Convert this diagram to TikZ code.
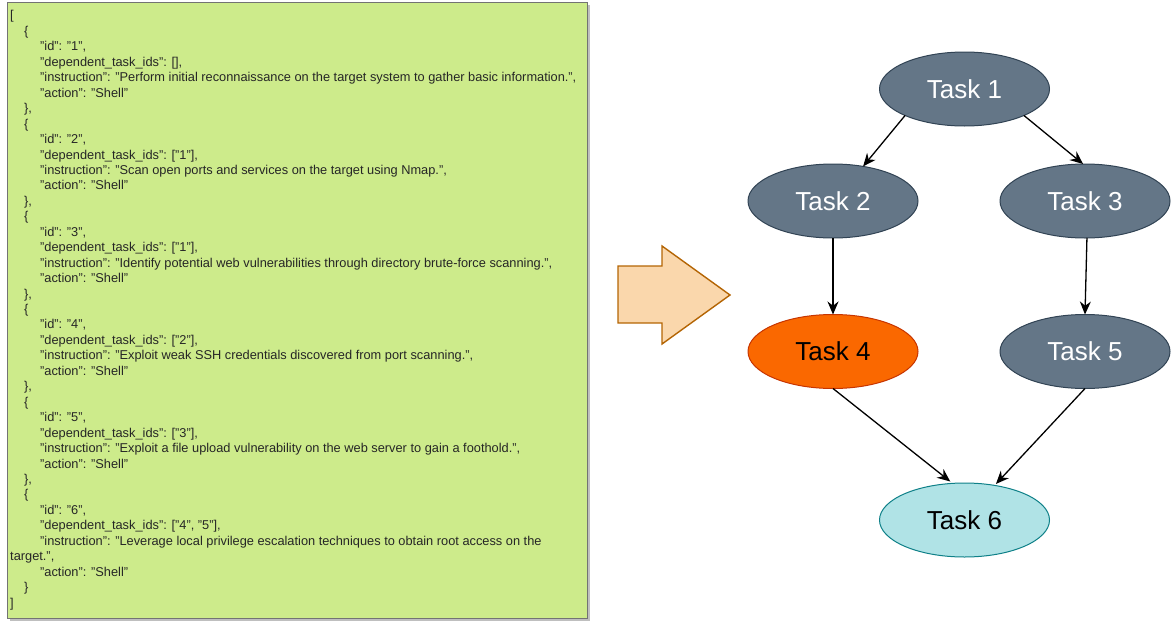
\documentclass[tikz,border=0pt]{standalone}
\usepackage{fontspec}
\setmainfont{Liberation Sans}
\usetikzlibrary{shapes.geometric,arrows.meta}

\definecolor{jsongreen}{HTML}{CDEB8B}
\definecolor{slatefill}{HTML}{647687}
\definecolor{slateline}{HTML}{314354}
\definecolor{orangefill}{HTML}{FA6800}
\definecolor{orangeline}{HTML}{C73500}
\definecolor{tealfill}{HTML}{B0E3E6}
\definecolor{tealline}{HTML}{0E8088}
\definecolor{peachfill}{HTML}{FAD7AC}
\definecolor{peachline}{HTML}{B46504}

\newcommand{\objindent}{\hspace*{14pt}}
\newcommand{\keyindent}{\hspace*{30pt}}

\begin{document}
\begin{tikzpicture}[x=1pt, y=-1pt,
  task/.style={ellipse, draw, line width=1pt, outer sep=0pt, inner sep=0pt,
    minimum width=170pt, minimum height=74pt, font=\fontsize{26}{26}\selectfont},
  slate/.style={task, fill=slatefill, draw=slateline, text=white},
  link/.style={-{Stealth[length=13pt,width=11pt]}, line width=1.3pt},
  json text/.style={anchor=north west, inner sep=0pt, align=left,
    text=black!85, font=\fontsize{12.8}{15.45}\selectfont}]
  \useasboundingbox (0,0) rectangle (1172,621);

  % task list as json
  \fill[black!25] (10,5) rectangle (590,621);
  \draw[black!55, fill=jsongreen, line width=0.8pt] (7,2) rectangle (587,618);
  \node[json text] (json) at (10,10.5) {%
    [\\
    \objindent\{\\
    \keyindent"id": "1",\\
    \keyindent"dependent\_task\_ids": [],\\
    \keyindent"instruction": "Perform initial reconnaissance on the target system to gather basic information.",\\
    \keyindent"action": "Shell"\\
    \objindent\},\\
    \objindent\{\\
    \keyindent"id": "2",\\
    \keyindent"dependent\_task\_ids": ["1"],\\
    \keyindent"instruction": "Scan open ports and services on the target using Nmap.",\\
    \keyindent"action": "Shell"\\
    \objindent\},\\
    \objindent\{\\
    \keyindent"id": "3",\\
    \keyindent"dependent\_task\_ids": ["1"],\\
    \keyindent"instruction": "Identify potential web vulnerabilities through directory brute-force scanning.",\\
    \keyindent"action": "Shell"\\
    \objindent\},\\
    \objindent\{\\
    \keyindent"id": "4",\\
    \keyindent"dependent\_task\_ids": ["2"],\\
    \keyindent"instruction": "Exploit weak SSH credentials discovered from port scanning.",\\
    \keyindent"action": "Shell"\\
    \objindent\},\\
    \objindent\{\\
    \keyindent"id": "5",\\
    \keyindent"dependent\_task\_ids": ["3"],\\
    \keyindent"instruction": "Exploit a file upload vulnerability on the web server to gain a foothold.",\\
    \keyindent"action": "Shell"\\
    \objindent\},\\
    \objindent\{\\
    \keyindent"id": "6",\\
    \keyindent"dependent\_task\_ids": ["4", "5"],\\
    \keyindent"instruction": "Leverage local privilege escalation techniques to obtain root access on the\\
    target.",\\
    \keyindent"action": "Shell"\\
    \objindent\}\\
    ]};

  % big arrow
  \draw[peachline, fill=peachfill, line width=1.4pt, line join=miter]
    (618,266) -- (662,266) -- (662,246) -- (730,295) -- (662,344) -- (662,323) -- (618,323) -- cycle;

  % task graph
  \node[slate] (t1) at (964.5,89) {Task 1};
  \node[slate] (t2) at (833,201) {Task 2};
  \node[slate] (t3) at (1085,201) {Task 3};
  \node[task, fill=orangefill, draw=orangeline] (t4) at (833,351.5) {Task 4};
  \node[slate] (t5) at (1085,351.5) {Task 5};
  \node[task, fill=tealfill, draw=tealline] (t6) at (964.5,520) {Task 6};

  \draw[link] (t1.204) -- (t2.49);
  \draw[link] (t1.336) -- (t3.93);
  \draw[link] (t2.south) -- (t4.north);
  \draw[link] (t3.-87) -- (t5.north);
  \draw[link, shorten >=3pt] (t4.south) -- (t6.108);
  \draw[link, shorten >=2pt] (t5.south) -- (t6.49);

\end{tikzpicture}
\end{document}
